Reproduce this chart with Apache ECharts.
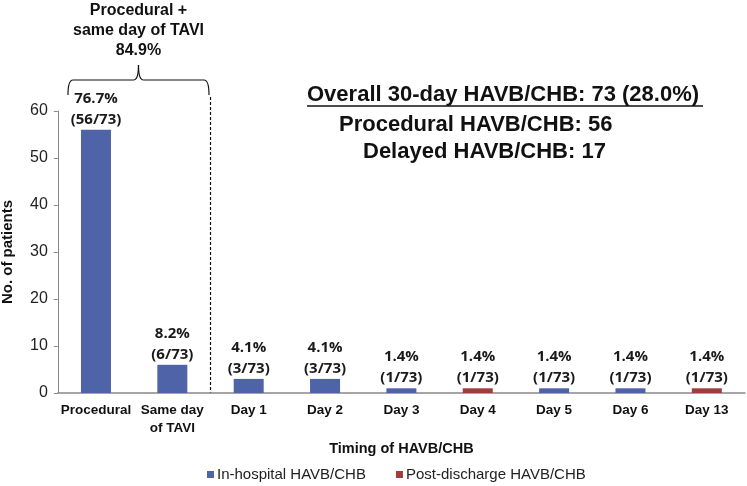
<!DOCTYPE html>
<html>
<head>
<meta charset="utf-8">
<script src="https://cdn.jsdelivr.net/npm/echarts@6/dist/echarts.min.js"></script>
<style>html,body{margin:0;padding:0;background:#fff;}#c{width:747px;height:486px;}</style>
</head>
<body>
<div id="c"></div>
<script>
const categories = ['Procedural', 'Same day\nof TAVI', 'Day 1', 'Day 2', 'Day 3', 'Day 4', 'Day 5', 'Day 6', 'Day 13'];
const inHospital = [56, 6, 3, 3, 1, null, 1, 1, null];
const postDischarge = [null, null, null, null, null, 1, null, null, 1];
const pctLabels = ['76.7%', '8.2%', '4.1%', '4.1%', '1.4%', '1.4%', '1.4%', '1.4%', '1.4%'];
const fracLabels = ['(56/73)', '(6/73)', '(3/73)', '(3/73)', '(1/73)', '(1/73)', '(1/73)', '(1/73)', '(1/73)'];
const yTicks = [0, 10, 20, 30, 40, 50, 60];
const summaryLines = ['Overall 30-day HAVB/CHB: 73 (28.0%)', 'Procedural HAVB/CHB: 56', 'Delayed HAVB/CHB: 17'];
const bracketText = 'Procedural +\nsame day of TAVI\n84.9%';

const chart = echarts.init(document.getElementById('c'), null, {renderer: 'canvas'});
const F = 'Arial, "Liberation Sans", sans-serif';
const labelStyle = {
  show: true, position: 'top', distance: 0,
  fontFamily: '"Open Sans", sans-serif', fontWeight: 'bold', fontSize: 15, lineHeight: 21, color: '#1a1a1a',
  formatter: p => pctLabels[p.dataIndex] + '\n' + fracLabels[p.dataIndex]
};
chart.setOption({
  animation: false,
  grid: {left: 57.8, right: 2, top: 111, bottom: 93, containLabel: false, outerBoundsMode: 'none'},
  legend: {
    left: 207, top: 467, padding: 0, itemWidth: 7, itemHeight: 7, itemGap: 30,
    icon: 'rect',
    textStyle: {fontFamily: F, fontSize: 15, color: '#222', padding: [0, 0, 0, -2]},
    data: ['In-hospital HAVB/CHB', 'Post-discharge HAVB/CHB']
  },
  xAxis: {
    type: 'category', data: categories,
    name: 'Timing of HAVB/CHB', nameLocation: 'middle', nameGap: 47,
    nameTextStyle: {fontFamily: F, fontWeight: 'bold', fontSize: 14.5, color: '#111'},
    axisLine: {lineStyle: {color: '#888', width: 1.5}},
    axisTick: {show: false},
    axisLabel: {fontFamily: F, fontWeight: 'bold', fontSize: 13.5, color: '#111', margin: 8, lineHeight: 18, interval: 0}
  },
  yAxis: {
    type: 'value', min: 0, max: 60, interval: 10,
    name: 'No. of patients', nameLocation: 'middle', nameGap: 42,
    nameTextStyle: {fontFamily: F, fontWeight: 'bold', fontSize: 15, color: '#111'},
    axisLine: {show: true, lineStyle: {color: '#888', width: 1}},
    axisTick: {show: true, length: 4, lineStyle: {color: '#888'}},
    splitLine: {show: false},
    axisLabel: {fontFamily: F, fontSize: 16, color: '#222', margin: 10,
      formatter: v => yTicks.indexOf(v) >= 0 ? String(v) : ''}
  },
  series: [
    {name: 'In-hospital HAVB/CHB', type: 'bar', data: inHospital, barWidth: 30, barGap: '-100%',
     itemStyle: {color: '#4F63A9'}, label: labelStyle},
    {name: 'Post-discharge HAVB/CHB', type: 'bar', data: postDischarge, barWidth: 30, barGap: '-100%',
     itemStyle: {color: '#A03C3C'}, label: labelStyle}
  ]
});

const px = i => chart.convertToPixel({xAxisIndex: 0}, i);
const y0 = chart.convertToPixel({yAxisIndex: 0}, 0);
const sepX = (px(1) + px(2)) / 2;
const L = px(0) - 28, R = sepX - 1.5, M = (L + R) / 2;
const bTop = 80, cusp = 65;
const bs = {stroke: '#111', lineWidth: 1.2, fill: null};
const curve = (x1, y1, x2, y2, cx, cy) => ({type: 'bezierCurve', shape: {x1, y1, x2, y2, cpx1: cx, cpy1: cy}, style: bs});
const seg = (x1, y1, x2, y2) => ({type: 'line', shape: {x1, y1, x2, y2}, style: bs});

chart.setOption({
  graphic: [
    {type: 'line', shape: {x1: sepX, y1: 97, x2: sepX, y2: y0}, style: {stroke: '#111', lineWidth: 1.2, lineDash: [3, 2]}},
    curve(L, 95, L + 5, bTop, L, bTop),
    seg(L + 5, bTop, M - 5, bTop),
    curve(M - 5, bTop, M, cusp, M, bTop),
    curve(M, cusp, M + 5, bTop, M, bTop),
    seg(M + 5, bTop, R - 5, bTop),
    curve(R - 5, bTop, R, 95, R, bTop),
    {type: 'text', x: M, y: 1, style: {text: bracketText, fontFamily: F, fontWeight: 'bold', fontSize: 16, lineHeight: 20,
      fill: '#111', align: 'center', verticalAlign: 'top'}},
    {type: 'text', x: 307, y: 95, style: {text: summaryLines[0], fontFamily: F, fontWeight: 'bold', fontSize: 22, fill: '#111', align: 'left', verticalAlign: 'middle'}},
    {type: 'line', shape: {x1: 307, y1: 106, x2: 703, y2: 106}, style: {stroke: '#111', lineWidth: 1.5}},
    {type: 'text', x: 339, y: 125, style: {text: summaryLines[1], fontFamily: F, fontWeight: 'bold', fontSize: 22, fill: '#111', align: 'left', verticalAlign: 'middle'}},
    {type: 'text', x: 363, y: 152, style: {text: summaryLines[2], fontFamily: F, fontWeight: 'bold', fontSize: 22, fill: '#111', align: 'left', verticalAlign: 'middle'}}
  ]
});
</script>
</body>
</html>
